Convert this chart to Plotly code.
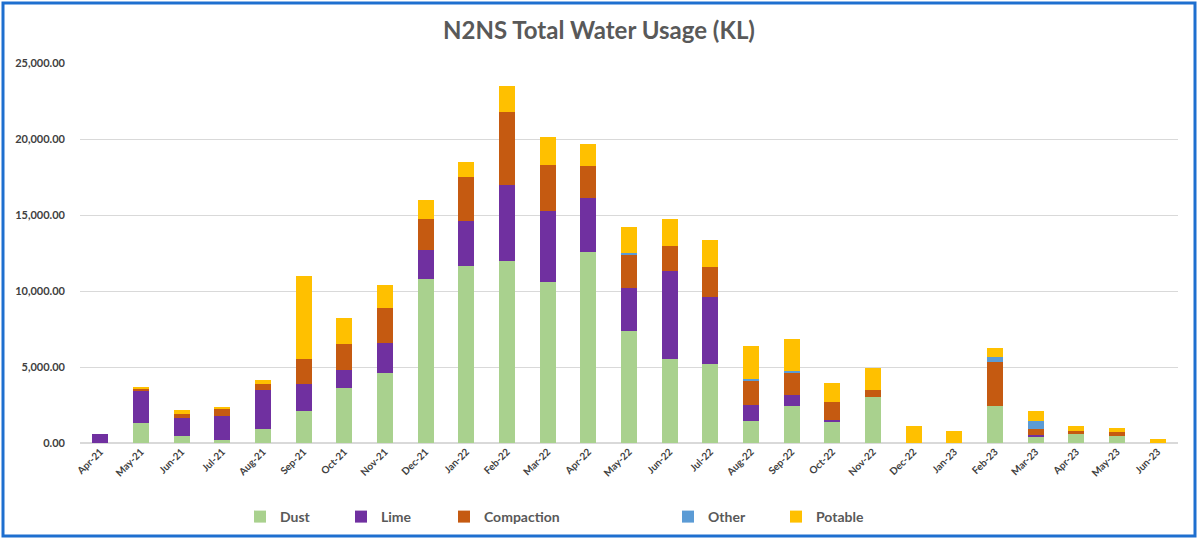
import plotly.graph_objects as go

months = ["Apr-21", "May-21", "Jun-21", "Jul-21", "Aug-21", "Sep-21", "Oct-21", "Nov-21",
          "Dec-21", "Jan-22", "Feb-22", "Mar-22", "Apr-22", "May-22", "Jun-22", "Jul-22",
          "Aug-22", "Sep-22", "Oct-22", "Nov-22", "Dec-22", "Jan-23", "Feb-23", "Mar-23",
          "Apr-23", "May-23", "Jun-23"]

dust = [0, 1300, 450, 230, 935, 2075, 3610, 4620,
        10790, 11650, 11980, 10570, 12550, 7390, 5500, 5220,
        1420, 2430, 1420, 3020, 0, 0, 2420, 430,
        600, 490, 0]
lime = [580, 2090, 1180, 1515, 2565, 1825, 1210, 1980,
        1890, 2940, 4980, 4700, 3560, 2830, 5800, 4370,
        1100, 720, 110, 0, 0, 0, 0, 80,
        0, 0, 0]
compaction = [0, 220, 290, 550, 400, 1600, 1670, 2300,
              2090, 2920, 4790, 2990, 2090, 2200, 1670, 1980,
              1580, 1490, 1200, 480, 0, 0, 2900, 420,
              180, 220, 0]
other = [0, 0, 0, 0, 0, 0, 0, 0,
         0, 0, 0, 0, 0, 50, 0, 0,
         120, 80, 0, 0, 0, 0, 330, 490,
         0, 0, 0]
potable = [0, 40, 280, 60, 220, 5470, 1730, 1520,
           1250, 970, 1740, 1890, 1450, 1730, 1800, 1770,
           2160, 2100, 1230, 1430, 1150, 780, 620, 680,
           370, 290, 280]

series = [("Dust", dust, "#A9D18E"),
          ("Lime", lime, "#7030A0"),
          ("Compaction", compaction, "#C55A11"),
          ("Other", other, "#5B9BD5"),
          ("Potable", potable, "#FFC000")]

yticks = [0, 5000, 10000, 15000, 20000, 25000]

W, H = 1198, 540
L, R, T, B = 80, 20, 63, 97
pw, ph = W - L - R, H - T - B

def px_x(p):
    return (p - L) / pw

def px_y(p):
    return (H - B - p) / ph

legend_left_px = [240, 341, 444, 668, 776]
legend_ids = ["legend", "legend2", "legend3", "legend4", "legend5"]

fig = go.Figure()
for (name, vals, col), lid in zip(series, legend_ids):
    fig.add_trace(go.Bar(x=months, y=vals, name=name, legend=lid, showlegend=True,
                         marker=dict(color=col, line=dict(width=0))))

legend_layouts = {}
for lid, lx in zip(legend_ids, legend_left_px):
    legend_layouts[lid] = dict(orientation="h", x=px_x(lx), xanchor="left",
                               y=px_y(517), yanchor="middle",
                               font=dict(size=14, color="#595959", weight="bold"),
                               itemwidth=30, bgcolor="rgba(0,0,0,0)")

fig.update_layout(
    width=W, height=H, showlegend=True,
    barmode="stack", bargap=0.6,
    paper_bgcolor="white", plot_bgcolor="white",
    margin=dict(l=L, r=R, t=T, b=B, autoexpand=False),
    font=dict(family="Lato, Open Sans, sans-serif", color="#595959"),
    title=dict(text="N2NS Total Water Usage (KL)", x=0.5, xanchor="center", xref="container",
               y=1 - 31 / H, yanchor="middle", yref="container",
               font=dict(size=24, color="#595959", weight="bold")),
    xaxis=dict(tickangle=-45, tickfont=dict(size=10, color="#404040", weight="bold"),
               showgrid=False, showline=False, ticks="",
               categoryorder="array", categoryarray=months),
    yaxis=dict(range=[0, 25000], tickvals=yticks, tickformat=",.2f",
               tickfont=dict(size=11, color="#404040", weight="bold"),
               gridcolor="#D9D9D9", gridwidth=1, ticklabelstandoff=14,
               zeroline=True, zerolinecolor="#D9D9D9", showline=False, ticks=""),
    shapes=[dict(type="rect", xref="paper", yref="paper",
                 x0=px_x(3), x1=px_x(1195), y0=px_y(536), y1=px_y(3),
                 line=dict(color="#1E6FCF", width=3), fillcolor="rgba(0,0,0,0)", layer="below")],
    **legend_layouts,
)

fig.write_html("out.html", config={"displayModeBar": False},
               post_script="document.body.style.margin='0';")
